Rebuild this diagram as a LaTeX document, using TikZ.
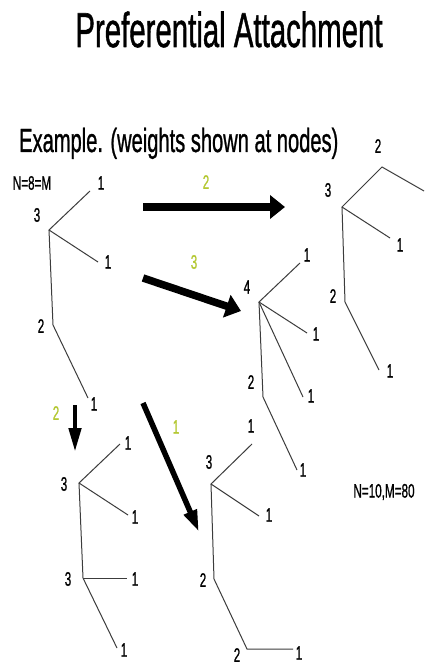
\documentclass[tikz,border=0pt]{standalone}
\usepackage{fontspec}
\setmainfont{Liberation Sans}
\newfontfamily\heavy{Liberation Sans}[FakeBold=1.2]
\usetikzlibrary{arrows.meta}
\newcommand{\sq}[1]{\scalebox{0.6}[1]{\heavy #1}}
\definecolor{wgreen}{RGB}{180,200,50}
\definecolor{edgegray}{RGB}{60,60,60}
\tikzset{
  edge/.style={draw=edgegray, line width=1pt},
  wlabel/.style={inner sep=0pt, font=\fontsize{19.5}{20}\selectfont},
  glabel/.style={wlabel, text=wgreen},
  bigarrow/.style={line width=7.5pt, -{Triangle[length=15pt,width=23pt]}},
  thinarrow/.style={line width=4.5pt, -{Triangle[length=24pt,width=12pt]}},
}
\begin{document}
\begin{tikzpicture}[x=1pt,y=-1pt]
\path[use as bounding box, fill=white] (0,0) rectangle (432,668);

% titles
\node[inner sep=0pt, anchor=base, font=\fontsize{49}{50}\selectfont] (title) at (229,47) {\sq{Preferential Attachment}};
\node[inner sep=0pt, anchor=base west, font=\fontsize{33.5}{34}\selectfont] (example) at (19,152) {\sq{Example. (weights shown at nodes)}};
\node[wlabel] (n8) at (32,183) {\sq{N=8=M}};
\node[wlabel] (n10) at (384,492) {\sq{N=10,M=80}};

% Tree A
\coordinate (Ar) at (49,230);
\coordinate (Au) at (90,191);
\coordinate (Ad) at (98,262);
\coordinate (Am) at (53,325);
\coordinate (Ab) at (88,398);
\draw[edge] (Au) -- (Ar) -- (Ad);
\draw[edge] (Ar) -- (Am) -- (Ab);
\node[wlabel] (la1) at (37,215) {\sq{3}};
\node[wlabel] (la2) at (101,183) {\sq{1}};
\node[wlabel] (la3) at (108,262) {\sq{1}};
\node[wlabel] (la4) at (41,326) {\sq{2}};
\node[wlabel] (la5) at (94,404) {\sq{1}};

% Tree B
\coordinate (Br) at (342,207);
\coordinate (Bu) at (382,167);
\coordinate (Bx) at (424,191);
\coordinate (Bd) at (390,238);
\coordinate (Bm) at (345,302);
\coordinate (Bb) at (379,370);
\draw[edge] (Bx) -- (Bu) -- (Br) -- (Bd);
\draw[edge] (Br) -- (Bm) -- (Bb);
\node[wlabel] (lb1) at (378,146) {\sq{2}};
\node[wlabel] (lb2) at (328,190) {\sq{3}};
\node[wlabel] (lb3) at (400,245) {\sq{1}};
\node[wlabel] (lb4) at (333,296) {\sq{2}};
\node[wlabel] (lb5) at (390,371) {\sq{1}};

% Tree C
\coordinate (Cr) at (259,302);
\coordinate (Cu) at (300,263);
\coordinate (Cd) at (307,333);
\coordinate (Ce) at (303,397);
\coordinate (Cm) at (263,397);
\coordinate (Cb) at (297,470);
\draw[edge] (Cu) -- (Cr) -- (Cd);
\draw[edge] (Cr) -- (Ce);
\draw[edge] (Cr) -- (Cm) -- (Cb);
\node[wlabel] (lc1) at (247,287) {\sq{4}};
\node[wlabel] (lc2) at (307,255) {\sq{1}};
\node[wlabel] (lc3) at (316,334) {\sq{1}};
\node[wlabel] (lc4) at (311,396) {\sq{1}};
\node[wlabel] (lc5) at (251,382) {\sq{2}};
\node[wlabel] (lc6) at (303,470) {\sq{1}};

% Tree D
\coordinate (Dr) at (79,483);
\coordinate (Du) at (120,444);
\coordinate (Dd) at (128,515);
\coordinate (Dm) at (83,578);
\coordinate (Dh) at (127,578);
\coordinate (Db) at (117,648);
\draw[edge] (Du) -- (Dr) -- (Dd);
\draw[edge] (Dr) -- (Dm) -- (Db);
\draw[edge] (Dm) -- (Dh);
\node[wlabel] (ld1) at (128,443) {\sq{1}};
\node[wlabel] (ld2) at (64,484) {\sq{3}};
\node[wlabel] (ld3) at (135,517) {\sq{1}};
\node[wlabel] (ld4) at (68,579) {\sq{3}};
\node[wlabel] (ld5) at (135,579) {\sq{1}};
\node[wlabel] (ld6) at (124,650) {\sq{1}};

% Tree E
\coordinate (Er) at (211,484);
\coordinate (Eu) at (252,444);
\coordinate (Ed) at (259,516);
\coordinate (Em) at (214,579);
\coordinate (Eb) at (247,649);
\coordinate (Eh) at (293,649);
\draw[edge] (Eu) -- (Er) -- (Ed);
\draw[edge] (Er) -- (Em) -- (Eb) -- (Eh);
\node[wlabel] (le1) at (251,426) {\sq{1}};
\node[wlabel] (le2) at (209,462) {\sq{3}};
\node[wlabel] (le3) at (269,515) {\sq{1}};
\node[wlabel] (le4) at (203,580) {\sq{2}};
\node[wlabel] (le5) at (237,655) {\sq{2}};
\node[wlabel] (le6) at (299,653) {\sq{1}};

% Transition arrows
\coordinate (a1s) at (143,207);
\coordinate (a1e) at (285,207);
\coordinate (a2s) at (143,278);
\coordinate (a2e) at (241,311);
\coordinate (a3s) at (75,405);
\coordinate (a3e) at (75,452);
\coordinate (a4s) at (143,403);
\coordinate (a4e) at (199,532);
\draw[bigarrow] (a1s) -- (a1e);
\draw[bigarrow] (a2s) -- (a2e);
\draw[thinarrow] (a3s) -- (a3e);
\draw[thinarrow, line width=5.5pt, -{Triangle[length=22pt,width=13pt]}] (a4s) -- (a4e);
\node[glabel] (g1) at (206,182) {\sq{2}};
\node[glabel] (g2) at (194,262) {\sq{3}};
\node[glabel] (g3) at (56,413) {\sq{2}};
\node[glabel] (g4) at (176,427) {\sq{1}};
\end{tikzpicture}
\end{document}
